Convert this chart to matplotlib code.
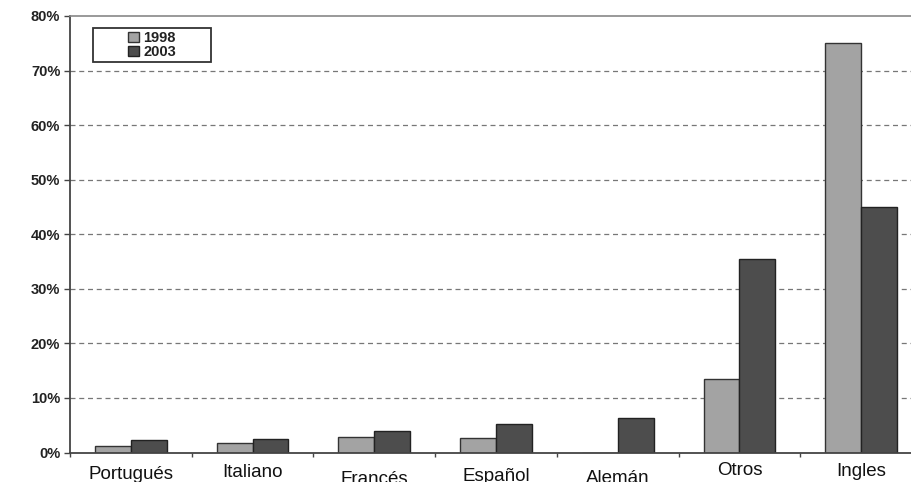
import matplotlib.pyplot as plt
from matplotlib.patches import Rectangle
import numpy as np

idiomas = ['Portugués', 'Italiano', 'Francés', 'Español', 'Alemán', 'Otros', 'Ingles']
v1998 = [1.2, 1.8, 2.9, 2.6, 0.0, 13.5, 75.0]
v2003 = [2.3, 2.5, 4.0, 5.2, 6.3, 35.5, 45.0]
anios = ['1998', '2003']

# desplazamiento vertical (en puntos) de cada etiqueta del eje x
desplaz = [-9.5, -8, -13.5, -11, -12.5, -6.5, -7.5]

plt.rcParams['font.family'] = ['Liberation Sans', 'DejaVu Sans']

fig = plt.figure(figsize=(9.11, 4.82), dpi=100)
ax = fig.add_axes([70 / 911, (482 - 452.5) / 482, 852 / 911, 436.5 / 482])

x = np.arange(len(idiomas))
w = 0.295
ax.bar(x - w / 2, v1998, w, color='#a3a3a3', edgecolor='#333333', linewidth=1.0, label=anios[0])
ax.bar(x + w / 2, v2003, w, color='#4d4d4d', edgecolor='#222222', linewidth=1.0, label=anios[1])

ax.set_xlim(-0.5, len(idiomas) - 0.5)
ax.set_ylim(0, 80)
ax.set_yticks(range(0, 81, 10))
ax.set_yticklabels([f'{v}%' for v in range(0, 81, 10)], fontsize=10.5, fontweight='bold', color='#222222')
ax.tick_params(axis='y', length=4, width=1, color='#444444', pad=3)

# marcas del eje x entre grupos
ax.set_xticks(np.arange(-0.5, len(idiomas), 1.0))
ax.set_xticklabels([])
ax.tick_params(axis='x', length=3, width=1, color='#444444')
for i, (nombre, dy) in enumerate(zip(idiomas, desplaz)):
    ax.annotate(nombre, xy=(i, 0), xycoords=('data', 'axes fraction'),
                xytext=(0, dy), textcoords='offset points',
                ha='center', va='top', fontsize=13.5, color='#111111',
                annotation_clip=False)

for y in range(10, 80, 10):
    ax.axhline(y, color='#777777', linestyle=(0, (4, 3)), linewidth=0.9, zorder=0)

ax.spines['right'].set_visible(False)
ax.spines['top'].set_color('#888888')
ax.spines['top'].set_linewidth(1.2)
ax.spines['left'].set_color('#444444')
ax.spines['left'].set_linewidth(1.3)
ax.spines['bottom'].set_color('#444444')
ax.spines['bottom'].set_linewidth(1.3)

# recuadro de la leyenda
caja = Rectangle((0.027, 0.8946), 0.1385, 0.0779, transform=ax.transAxes,
                 facecolor='white', edgecolor='#333333', linewidth=1.3, zorder=4)
ax.add_patch(caja)
leg = ax.legend(loc='center', bbox_to_anchor=(0.0962, 0.9336),
                frameon=False, handlelength=0.8, handleheight=0.7,
                handletextpad=0.3, labelspacing=0.0, borderpad=0,
                prop={'size': 10.5, 'weight': 'bold'}, borderaxespad=0)
leg.set_zorder(5)
for t in leg.get_texts():
    t.set_color('#222222')

fig.savefig('out.png', dpi=100)
